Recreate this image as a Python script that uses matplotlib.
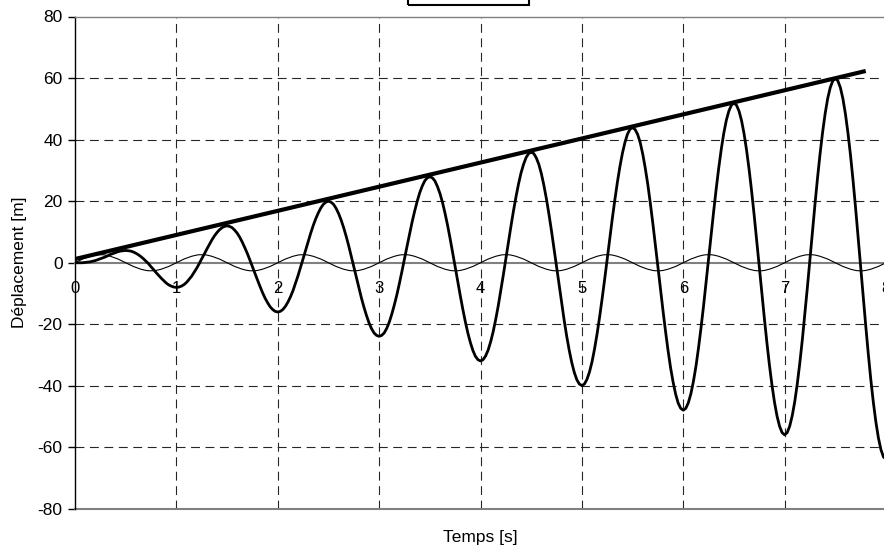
import numpy as np
import matplotlib.pyplot as plt
from matplotlib.patches import Rectangle

plt.rcParams['font.family'] = ['Liberation Sans', 'DejaVu Sans']
plt.rcParams['axes.unicode_minus'] = False

# Temps [s], pas de 0.025 s
temps = np.round(np.arange(321) * 0.025, 3)

# Réponse (trait épais), une ligne par seconde
deplacement = [
    0.0, 0.0, 0.0, 0.0, 0.1, 0.2, 0.3, 0.5, 0.7, 1.0, 1.3, 1.6, 1.9, 2.3, 2.7, 3.0, 3.3, 3.6, 3.8, 3.9,
    4.0, 3.9, 3.8, 3.5, 3.1, 2.6, 2.0, 1.3, 0.5, -0.3, -1.3, -2.2, -3.2, -4.1, -5.0, -5.8, -6.6, -7.2, -7.6, -7.9,
    -8.0, -7.9, -7.6, -7.1, -6.4, -5.4, -4.4, -3.1, -1.8, -0.3, 1.3, 2.8, 4.4, 5.9, 7.4, 8.7, 9.8, 10.7, 11.4, 11.8,
    12.0, 11.8, 11.4, 10.6, 9.6, 8.3, 6.7, 4.9, 3.0, 0.9, -1.3, -3.5, -5.6, -7.7, -9.7, -11.5, -13.0, -14.3, -15.2, -15.8,
    -16.0, -15.8, -15.2, -14.2, -12.8, -11.1, -9.1, -6.7, -4.2, -1.5, 1.3, 4.1, 6.9, 9.6, 12.1, 14.3, 16.2, 17.8, 19.0, 19.7,
    20.0, 19.7, 19.0, 17.7, 16.0, 13.9, 11.4, 8.6, 5.5, 2.1, -1.3, -4.7, -8.1, -11.4, -14.4, -17.1, -19.5, -21.4, -22.8, -23.6,
    -23.9, -23.6, -22.8, -21.3, -19.3, -16.7, -13.7, -10.4, -6.7, -2.8, 1.3, 5.3, 9.3, 13.2, 16.7, 19.9, 22.7, 24.9, 26.6, 27.6,
    27.9, 27.6, 26.6, 24.8, 22.5, 19.6, 16.1, 12.2, 7.9, 3.4, -1.3, -6.0, -10.6, -15.0, -19.1, -22.8, -25.9, -28.5, -30.4, -31.5,
    -31.9, -31.5, -30.3, -28.4, -25.7, -22.4, -18.4, -14.0, -9.1, -4.0, 1.3, 6.6, 11.8, 16.8, 21.4, 25.6, 29.2, 32.0, 34.2, 35.5,
    35.9, 35.5, 34.1, 32.0, 29.0, 25.2, 20.8, 15.8, 10.4, 4.6, -1.3, -7.2, -13.0, -18.6, -23.8, -28.4, -32.4, -35.6, -38.0, -39.4,
    -39.9, -39.4, -37.9, -35.5, -32.2, -28.0, -23.1, -17.6, -11.6, -5.3, 1.3, 7.8, 14.3, 20.4, 26.1, 31.2, 35.6, 39.1, 41.8, 43.4,
    43.9, 43.3, 41.7, 39.1, 35.4, 30.8, 25.5, 19.4, 12.8, 5.9, -1.3, -8.5, -15.5, -22.2, -28.5, -34.1, -38.8, -42.7, -45.6, -47.3,
    -47.9, -47.3, -45.5, -42.6, -38.6, -33.7, -27.8, -21.2, -14.1, -6.5, 1.3, 9.1, 16.7, 24.0, 30.8, 36.9, 42.1, 46.3, 49.3, 51.2,
    51.9, 51.2, 49.3, 46.2, 41.9, 36.5, 30.2, 23.1, 15.3, 7.1, -1.3, -9.7, -18.0, -25.9, -33.2, -39.7, -45.3, -49.8, -53.1, -55.2,
    -55.9, -55.2, -53.1, -49.7, -45.1, -39.3, -32.5, -24.9, -16.5, -7.8, 1.3, 10.3, 19.2, 27.7, 35.5, 42.5, 48.5, 53.4, 56.9, 59.1,
    59.9, 59.1, 56.9, 53.3, 48.3, 42.1, 34.9, 26.7, 17.8, 8.4, -1.3, -11.0, -20.4, -29.5, -37.9, -45.3, -51.7, -56.9, -60.7, -63.1,
    -63.8,
]

# Excitation (trait fin)
excitation = [
    0.0, 0.4, 0.8, 1.2, 1.5, 1.8, 2.1, 2.3, 2.5, 2.6, 2.6, 2.6, 2.5, 2.3, 2.1, 1.8, 1.5, 1.2, 0.8, 0.4,
    0.0, -0.4, -0.8, -1.2, -1.5, -1.8, -2.1, -2.3, -2.5, -2.6, -2.6, -2.6, -2.5, -2.3, -2.1, -1.8, -1.5, -1.2, -0.8, -0.4,
    0.0, 0.4, 0.8, 1.2, 1.5, 1.8, 2.1, 2.3, 2.5, 2.6, 2.6, 2.6, 2.5, 2.3, 2.1, 1.8, 1.5, 1.2, 0.8, 0.4,
    0.0, -0.4, -0.8, -1.2, -1.5, -1.8, -2.1, -2.3, -2.5, -2.6, -2.6, -2.6, -2.5, -2.3, -2.1, -1.8, -1.5, -1.2, -0.8, -0.4,
    0.0, 0.4, 0.8, 1.2, 1.5, 1.8, 2.1, 2.3, 2.5, 2.6, 2.6, 2.6, 2.5, 2.3, 2.1, 1.8, 1.5, 1.2, 0.8, 0.4,
    0.0, -0.4, -0.8, -1.2, -1.5, -1.8, -2.1, -2.3, -2.5, -2.6, -2.6, -2.6, -2.5, -2.3, -2.1, -1.8, -1.5, -1.2, -0.8, -0.4,
    0.0, 0.4, 0.8, 1.2, 1.5, 1.8, 2.1, 2.3, 2.5, 2.6, 2.6, 2.6, 2.5, 2.3, 2.1, 1.8, 1.5, 1.2, 0.8, 0.4,
    0.0, -0.4, -0.8, -1.2, -1.5, -1.8, -2.1, -2.3, -2.5, -2.6, -2.6, -2.6, -2.5, -2.3, -2.1, -1.8, -1.5, -1.2, -0.8, -0.4,
    0.0, 0.4, 0.8, 1.2, 1.5, 1.8, 2.1, 2.3, 2.5, 2.6, 2.6, 2.6, 2.5, 2.3, 2.1, 1.8, 1.5, 1.2, 0.8, 0.4,
    0.0, -0.4, -0.8, -1.2, -1.5, -1.8, -2.1, -2.3, -2.5, -2.6, -2.6, -2.6, -2.5, -2.3, -2.1, -1.8, -1.5, -1.2, -0.8, -0.4,
    0.0, 0.4, 0.8, 1.2, 1.5, 1.8, 2.1, 2.3, 2.5, 2.6, 2.6, 2.6, 2.5, 2.3, 2.1, 1.8, 1.5, 1.2, 0.8, 0.4,
    0.0, -0.4, -0.8, -1.2, -1.5, -1.8, -2.1, -2.3, -2.5, -2.6, -2.6, -2.6, -2.5, -2.3, -2.1, -1.8, -1.5, -1.2, -0.8, -0.4,
    0.0, 0.4, 0.8, 1.2, 1.5, 1.8, 2.1, 2.3, 2.5, 2.6, 2.6, 2.6, 2.5, 2.3, 2.1, 1.8, 1.5, 1.2, 0.8, 0.4,
    0.0, -0.4, -0.8, -1.2, -1.5, -1.8, -2.1, -2.3, -2.5, -2.6, -2.6, -2.6, -2.5, -2.3, -2.1, -1.8, -1.5, -1.2, -0.8, -0.4,
    0.0, 0.4, 0.8, 1.2, 1.5, 1.8, 2.1, 2.3, 2.5, 2.6, 2.6, 2.6, 2.5, 2.3, 2.1, 1.8, 1.5, 1.2, 0.8, 0.4,
    0.0, -0.4, -0.8, -1.2, -1.5, -1.8, -2.1, -2.3, -2.5, -2.6, -2.6, -2.6, -2.5, -2.3, -2.1, -1.8, -1.5, -1.2, -0.8, -0.4,
    0.0,
]

# Enveloppe (droite)
env_t = [0.0, 7.8]
env_y = [1.2, 62.3]

x_ticks = [0, 1, 2, 3, 4, 5, 6, 7, 8]
y_ticks = [-80, -60, -40, -20, 0, 20, 40, 60, 80]

fig = plt.figure(figsize=(8.84, 5.49), dpi=100)
ax = fig.add_axes([75 / 884, 40 / 549, 811 / 884, 492.5 / 549])

# grille en tirets
for xv in x_ticks[1:]:
    ax.axvline(xv, color='0.15', lw=0.8, ls=(0, (8, 5)), zorder=1)
for yv in y_ticks:
    if yv not in (-80, 0, 80):
        ax.axhline(yv, color='0.15', lw=0.8, ls=(0, (8, 5)), zorder=1)

ax.plot(temps, excitation, color='black', lw=0.8, zorder=3)
ax.plot(temps, deplacement, color='black', lw=2.0, solid_joinstyle='round', zorder=4)
ax.plot(env_t, env_y, color='black', lw=3.0, solid_capstyle='butt', zorder=5)

ax.set_xlim(0, 8)
ax.set_ylim(-80, 80)
ax.set_xticks(x_ticks)
ax.set_yticks(y_ticks)

# axe des x sur le zéro
ax.spines['bottom'].set_position(('data', 0))
ax.spines['bottom'].set_color('#808080')
ax.spines['bottom'].set_linewidth(1.5)
ax.spines['top'].set_color('#808080')
ax.spines['top'].set_linewidth(1.0)
ax.spines['right'].set_visible(False)
ax.spines['left'].set_color('black')
ax.spines['left'].set_linewidth(1.0)
ax.axhline(-80, color='#808080', lw=1.5, clip_on=False, zorder=2)

ax.tick_params(axis='x', length=0, pad=13, labelsize=12)
ax.tick_params(axis='y', direction='out', length=5, width=1, pad=4, labelsize=12.5)

ax.set_xlabel('Temps [s]', fontsize=12.5)
ax.xaxis.set_label_coords(0.5, -0.042)
ax.set_ylabel('Déplacement [m]', fontsize=12.5)
ax.yaxis.set_label_coords(-0.059, 0.5)

# cadre de la légende (coupé en haut)
fig.patches.append(Rectangle((408 / 884, 1 - 5 / 549), 121 / 884, 0.2,
                             transform=fig.transFigure, fill=False,
                             edgecolor='black', lw=1.5))

fig.savefig('out.png', dpi=100)
